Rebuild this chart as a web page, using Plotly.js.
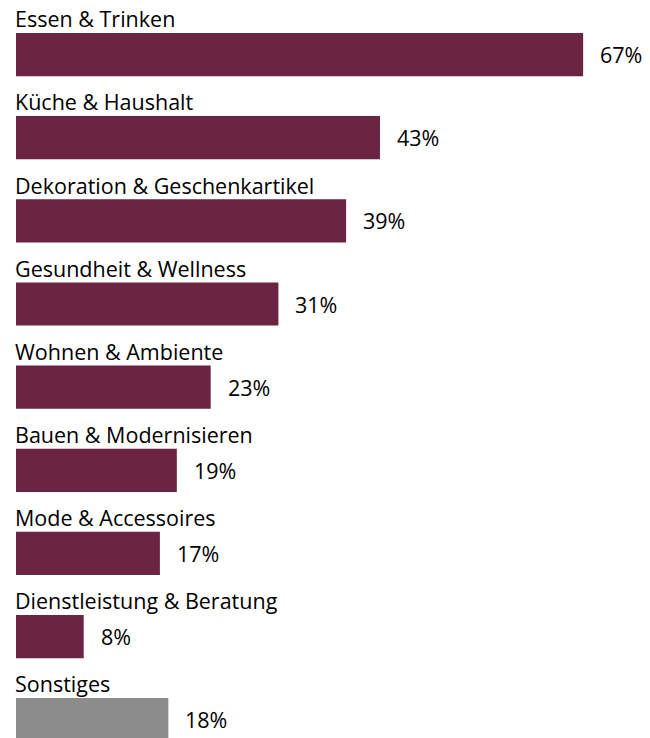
<!DOCTYPE html>
<html>
<head>
<meta charset="utf-8">
<script src="https://cdn.plot.ly/plotly-3.0.1.min.js"></script>
<style>html,body{margin:0;padding:0;background:#fff;}#chart{width:650px;height:738px;}</style>
</head>
<body>
<div id="chart"></div>
<script>
const categories = ["Essen & Trinken","Küche & Haushalt","Dekoration & Geschenkartikel","Gesundheit & Wellness","Wohnen & Ambiente","Bauen & Modernisieren","Mode & Accessoires","Dienstleistung & Beratung","Sonstiges"];
const values = [67, 43, 39, 31, 23, 19, 17, 8, 18];
const valueLabels = ["67%","43%","39%","31%","23%","19%","17%","8%","18%"];
const barColors = ["#6B2442","#6B2442","#6B2442","#6B2442","#6B2442","#6B2442","#6B2442","#6B2442","#8C8C8C"];

const idx = categories.map((c,i)=>i);
const font = "'Open Sans', sans-serif";

const annotations = [];
categories.forEach((c,i)=>{
  annotations.push({x:0, y:i-0.43, xref:'x', yref:'y', text:c, showarrow:false, xanchor:'left', yanchor:'middle', xshift:-2, borderpad:0, font:{family:font, size:21.5, color:'#000'}});
  annotations.push({x:values[i], y:i, xref:'x', yref:'y', text:valueLabels[i], showarrow:false, xanchor:'left', yanchor:'middle', xshift:16, borderpad:0, font:{family:font, size:21.5, color:'#000'}});
});

const trace = {
  type:'bar', orientation:'h', x:values, y:idx,
  marker:{color:barColors}, width:0.52, hoverinfo:'none'
};

const layout = {
  width:650, height:738,
  margin:{l:16, r:0, t:13, b:0, pad:0},
  paper_bgcolor:'#fff', plot_bgcolor:'#fff',
  showlegend:false,
  xaxis:{range:[0,74.9], visible:false, fixedrange:true},
  yaxis:{range:[8.22,-0.5], visible:false, fixedrange:true},
  annotations:annotations
};

Plotly.newPlot('chart',[trace],layout,{displayModeBar:false, staticPlot:true});
</script>
</body>
</html>
